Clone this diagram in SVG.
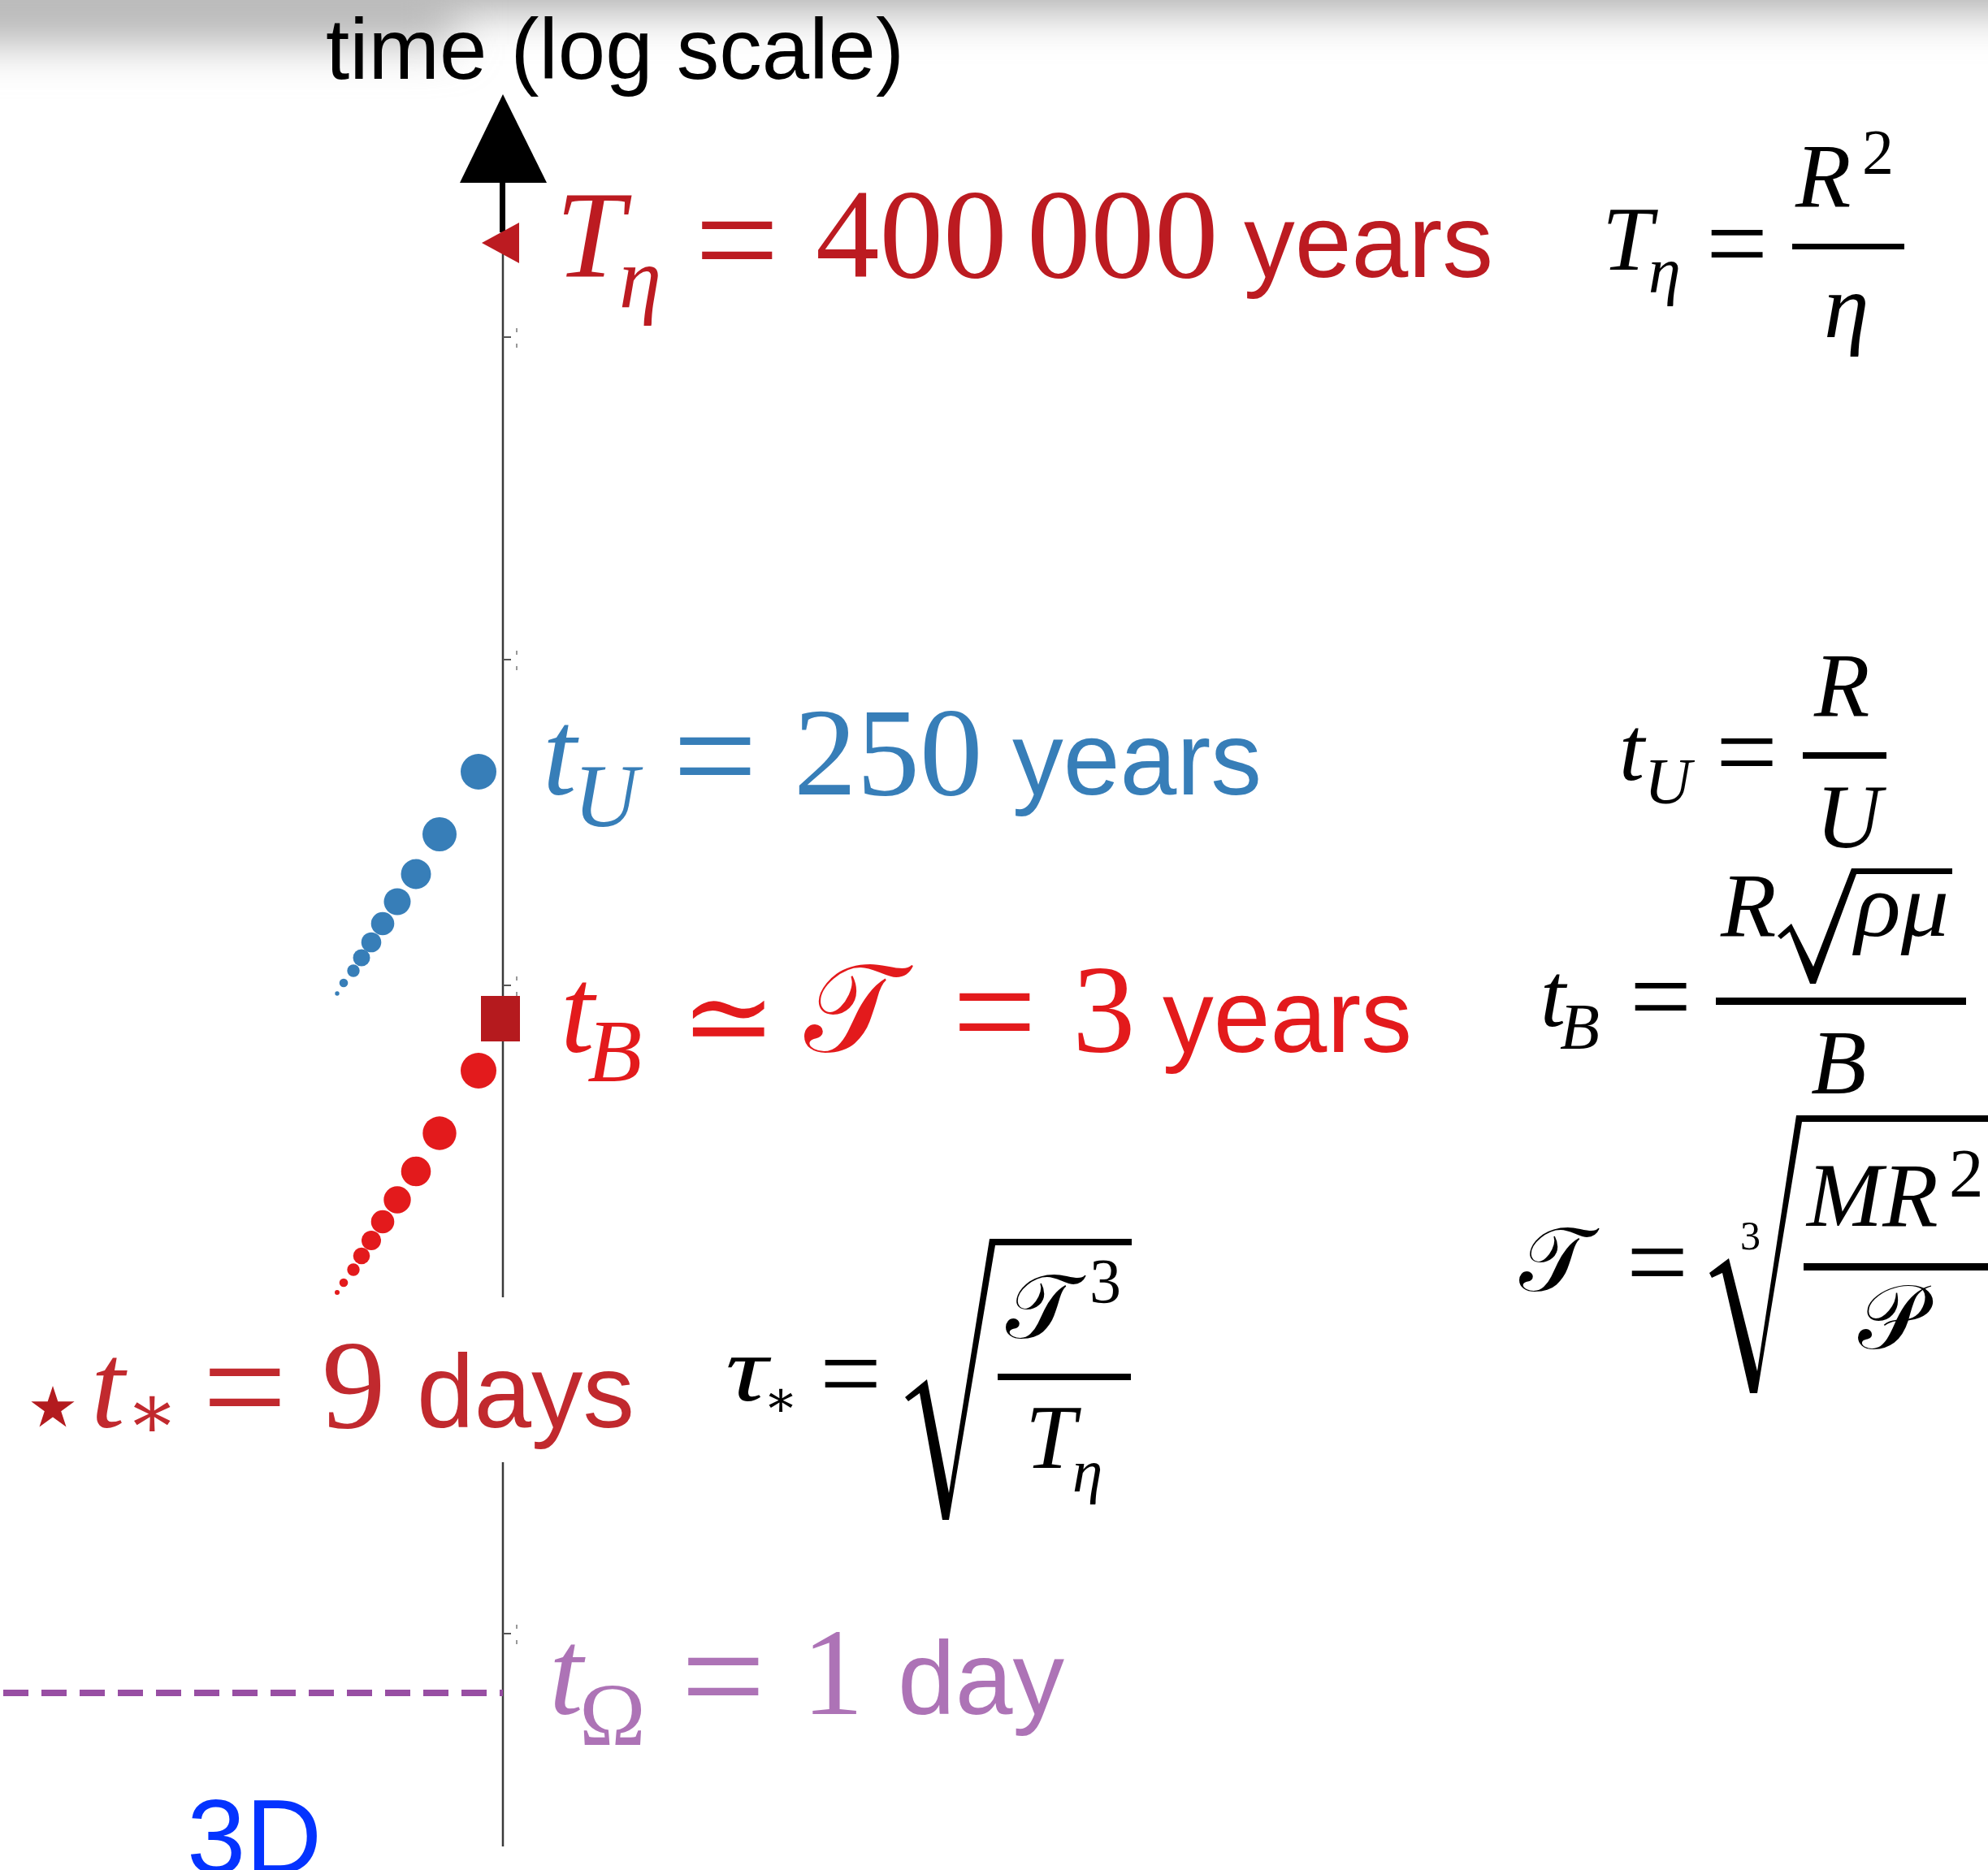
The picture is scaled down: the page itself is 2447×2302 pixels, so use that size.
<svg xmlns="http://www.w3.org/2000/svg" width="2447" height="2302" viewBox="0 0 2447 2302">
<style>
.sf{font-family:"Liberation Serif","DejaVu Serif",serif}
.it{font-style:italic}
.ss{font-family:"Liberation Sans",Arial,sans-serif}
.scr{font-family:"DejaVu Serif","DejaVu Sans","Noto Sans",serif}
.dr{fill:#BC1B21}
.rd{fill:#E31A1C}
.bl{fill:#377EB8}
.pu{fill:#AD73B6}
.nd{fill:#C1292E}
.bk{fill:#000}
.tick{stroke:#555;stroke-width:2}
</style>
<defs>
<filter id="blur" x="-50%" y="-50%" width="200%" height="200%"><feGaussianBlur stdDeviation="28"/></filter>
</defs>
<rect width="2447" height="2302" fill="#fff"/>
<g id="shadow">
<rect x="-300" y="-300" width="3050" height="312" fill="#a8a8a8" filter="url(#blur)"/>
<rect x="-300" y="-300" width="860" height="355" fill="#bcbcbc" filter="url(#blur)"/>
</g>
<g id="axis">
<text class="ss" x="401" y="97" font-size="105" fill="#000">time (log scale)</text>
<polygon points="619,116 566,225 673,225" fill="#000"/>
<rect x="615" y="224" width="7" height="62" fill="#000"/>
<line x1="619" y1="285" x2="619" y2="1597" stroke="#3a3a3a" stroke-width="2.5"/>
<line x1="619" y1="1800" x2="619" y2="2273" stroke="#3a3a3a" stroke-width="2.5"/>
<line class="tick" x1="619" y1="415" x2="629" y2="415"/>
<line class="tick" x1="619" y1="812" x2="629" y2="812"/>
<line class="tick" x1="619" y1="1213" x2="629" y2="1213"/>
<line class="tick" x1="619" y1="2011" x2="629" y2="2011"/>
<g fill="#999">
<rect x="635" y="404" width="2" height="5"/><rect x="635" y="423" width="2" height="5"/>
<rect x="635" y="801" width="2" height="5"/><rect x="635" y="820" width="2" height="5"/>
<rect x="635" y="1202" width="2" height="5"/><rect x="635" y="1221" width="2" height="5"/>
<rect x="635" y="2000" width="2" height="5"/><rect x="635" y="2019" width="2" height="5"/>
</g>
</g>
<g id="markers">
<polygon points="593,299 639,274 639,324" fill="#BC1B21"/>
<g fill="#377EB8">
<circle cx="589" cy="950" r="22"/><circle cx="541" cy="1027" r="21"/><circle cx="512" cy="1076" r="18.5"/><circle cx="489" cy="1110" r="16.5"/><circle cx="471" cy="1137" r="14.3"/><circle cx="457" cy="1160" r="12.3"/><circle cx="445" cy="1179" r="10.5"/><circle cx="435" cy="1195" r="7.7"/><circle cx="423" cy="1210" r="5.3"/><circle cx="415" cy="1223" r="2.7"/>
</g>
<rect x="592" y="1226" width="48" height="56" fill="#B51A1E"/>
<g fill="#E31A1C">
<circle cx="589" cy="1318" r="22"/><circle cx="541" cy="1395" r="20.7"/><circle cx="512" cy="1442" r="18.3"/><circle cx="489" cy="1477" r="16.7"/><circle cx="471" cy="1504" r="14.3"/><circle cx="457" cy="1527" r="12"/><circle cx="445" cy="1546" r="10.3"/><circle cx="435" cy="1563" r="7.7"/><circle cx="423" cy="1579" r="5.3"/><circle cx="415" cy="1591" r="3"/>
</g>
<polygon points="65,1706 71.3,1725.3 91.6,1725.3 75.2,1737.2 81.5,1756.6 65,1744.6 48.5,1756.6 54.8,1737.2 38.4,1725.3 58.7,1725.3" fill="#B31B1F"/>
<line x1="4" y1="2084" x2="619" y2="2084" stroke="#984EA3" stroke-width="8" stroke-dasharray="31,16"/>
</g>
<g id="label-Teta">
<text class="sf it dr" x="684" y="341" font-size="152">T</text>
<text class="sf it dr" x="762" y="378" font-size="105">η</text>
<text class="sf dr" x="855" y="357" font-size="185">=</text>
<text class="sf dr" x="1004" y="341" font-size="157">400</text>
<text class="sf dr" x="1264" y="341" font-size="157">000</text>
<text class="ss dr" x="1531" y="341" font-size="128" textLength="307" lengthAdjust="spacingAndGlyphs">years</text>
</g>
<g id="label-tU">
<text class="sf it bl" x="668" y="978" font-size="150">t</text>
<text class="sf it bl" x="706" y="1017" font-size="110">U</text>
<text class="sf bl" x="828" y="992" font-size="185">=</text>
<text class="sf bl" x="977" y="978" font-size="155">250</text>
<text class="ss bl" x="1246" y="978" font-size="128" textLength="307" lengthAdjust="spacingAndGlyphs">years</text>
</g>
<g id="label-tB">
<text class="sf it rd" x="690" y="1295" font-size="150">t</text>
<text class="sf it rd" x="723" y="1331" font-size="110">B</text>
<text class="scr rd" x="838" y="1300" font-size="140">≃</text>
<text class="scr rd" x="990" y="1294" font-size="152">𝒯</text>
<text class="sf rd" x="1172" y="1307" font-size="185">=</text>
<text class="sf rd" x="1320" y="1294" font-size="155">3</text>
<text class="ss rd" x="1431" y="1295" font-size="128" textLength="307" lengthAdjust="spacingAndGlyphs">years</text>
</g>
<g id="label-tstar">
<text class="sf it nd" x="112" y="1757" font-size="150">t</text>
<text class="scr nd" x="155" y="1770" font-size="95">∗</text>
<text class="sf nd" x="249" y="1769" font-size="185">=</text>
<text class="sf nd" x="396" y="1757" font-size="157">9</text>
<text class="ss nd" x="513" y="1757" font-size="128" textLength="268" lengthAdjust="spacingAndGlyphs">days</text>
</g>
<g id="label-tOmega">
<text class="sf it pu" x="676" y="2110" font-size="150">t</text>
<text class="sf pu" x="713" y="2148" font-size="110">Ω</text>
<text class="sf pu" x="838" y="2125" font-size="185">=</text>
<text class="sf pu" x="987" y="2110" font-size="152">1</text>
<text class="ss pu" x="1105" y="2110" font-size="128" textLength="205" lengthAdjust="spacingAndGlyphs">day</text>
</g>
<g id="label-3D">
<text class="ss" x="230" y="2306" font-size="130" fill="#0433FF">3D</text>
</g>
<g id="formula-Teta">
<text class="sf it bk" x="1972" y="332" font-size="112">T</text>
<text class="sf it bk" x="2029" y="360" font-size="80">η</text>
<text class="sf bk" x="2100" y="345" font-size="135">=</text>
<rect x="2206" y="300" width="138" height="7" fill="#000"/>
<text class="sf it bk" x="2210" y="254" font-size="112">R</text>
<text class="sf bk" x="2292" y="213" font-size="78">2</text>
<text class="sf it bk" x="2245" y="415" font-size="112">η</text>
</g>
<g id="formula-tU">
<text class="sf it bk" x="1993" y="960" font-size="112">t</text>
<text class="sf it bk" x="2024" y="989" font-size="80">U</text>
<text class="sf bk" x="2112" y="971" font-size="135">=</text>
<rect x="2219" y="926" width="103" height="8" fill="#000"/>
<text class="sf it bk" x="2233" y="881" font-size="112">R</text>
<text class="sf it bk" x="2235" y="1043" font-size="112">U</text>
</g>
<g id="formula-tB">
<text class="sf it bk" x="1896" y="1263" font-size="112">t</text>
<text class="sf it bk" x="1920" y="1291" font-size="80">B</text>
<text class="sf bk" x="2006" y="1272" font-size="135">=</text>
<rect x="2112" y="1228" width="308" height="9" fill="#000"/>
<text class="sf it bk" x="2118" y="1152" font-size="112">R</text>
<polygon points="2188,1152 2205,1137 2232,1190 2279,1069 2403,1069 2403,1076 2285,1076 2235,1211 2228,1211 2203,1147 2192,1156" fill="#000"/>
<text class="sf it bk" x="2283" y="1152" font-size="112" textLength="116" lengthAdjust="spacingAndGlyphs">ρμ</text>
<text class="sf it bk" x="2229" y="1346" font-size="112">B</text>
</g>
<g id="formula-T">
<text class="scr bk" x="1870" y="1589" font-size="112">𝒯</text>
<text class="sf bk" x="2002" y="1599" font-size="135">=</text>
<text class="sf bk" x="2142" y="1538" font-size="50">3</text>
<polygon points="2104,1567 2128,1549 2163,1688 2211,1373 2447,1373 2447,1381 2218,1381 2163,1715 2154,1715 2120,1567 2107,1573" fill="#000"/>
<rect x="2220" y="1555" width="227" height="9" fill="#000"/>
<text class="sf it bk" x="2224" y="1509" font-size="112">MR</text>
<text class="sf bk" x="2399" y="1473" font-size="85">2</text>
<text class="scr bk" x="2287" y="1660" font-size="112">𝒫</text>
</g>
<g id="formula-tau">
<text class="sf it bk" x="893" y="1724" font-size="115" textLength="52" lengthAdjust="spacingAndGlyphs">τ</text>
<text class="scr bk" x="940" y="1743" font-size="62">∗</text>
<text class="sf bk" x="1009" y="1736" font-size="135">=</text>
<polygon points="1114,1720 1141,1698 1168,1838 1218,1525 1393,1525 1393,1533 1225,1533 1168,1871 1160,1871 1132,1715 1118,1725" fill="#000"/>
<text class="scr bk" x="1238" y="1647" font-size="112">𝒯</text>
<text class="sf bk" x="1341" y="1603" font-size="78">3</text>
<rect x="1228" y="1691" width="164" height="8" fill="#000"/>
<text class="sf it bk" x="1262" y="1807" font-size="112">T</text>
<text class="sf it bk" x="1320" y="1836" font-size="75">η</text>
</g>
</svg>
